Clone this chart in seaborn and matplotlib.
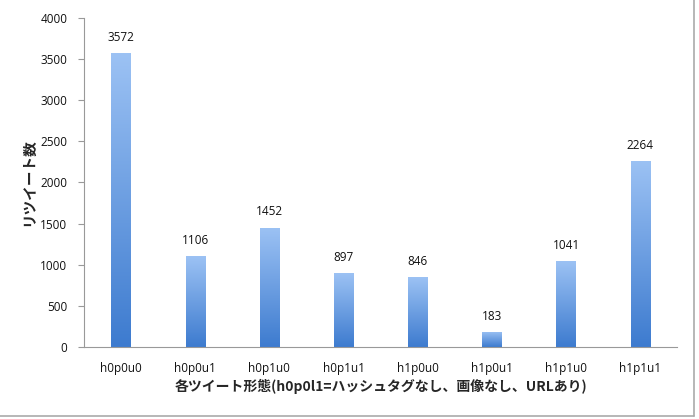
import numpy as np
import pandas as pd
import matplotlib
matplotlib.use("Agg")
import matplotlib.pyplot as plt
import seaborn as sns
from matplotlib.colors import LinearSegmentedColormap
from matplotlib.lines import Line2D

# data
categories = ["h0p0u0", "h0p0u1", "h0p1u0", "h0p1u1", "h1p0u0", "h1p0u1", "h1p1u0", "h1p1u1"]
retweets = [3572, 1106, 1452, 897, 846, 183, 1041, 2264]
y_ticks = [0, 500, 1000, 1500, 2000, 2500, 3000, 3500, 4000]

df = pd.DataFrame({"category": categories, "retweets": retweets})

sns.set_style("white")
plt.rcParams["font.family"] = ["Open Sans", "Noto Sans CJK JP", "DejaVu Sans"]
jp_font = ["Noto Sans CJK JP", "DejaVu Sans"]

fig = plt.figure(figsize=(6.99, 4.19), dpi=100)
ax = fig.add_axes([0.120, 0.172, 0.849, 0.785])

sns.barplot(data=df, x="category", y="retweets", ax=ax, width=0.26,
            color="#5b95e0", saturation=1, linewidth=0)

# vertical gradient fill per bar, light at top, darker at bottom
grad_cmap = LinearSegmentedColormap.from_list("bar_grad", ["#3d7bcf", "#9cc2f4"])
grad = np.linspace(0, 1, 256).reshape(-1, 1)
for patch in ax.patches:
    x0, y0 = patch.get_x(), patch.get_y()
    w, h = patch.get_width(), patch.get_height()
    patch.set_facecolor("none")
    im = ax.imshow(grad, cmap=grad_cmap, aspect="auto", origin="lower",
                   extent=[x0, x0 + w, y0, y0 + h], zorder=2)
    im.set_clip_path(patch)
    ax.text(x0 + w / 2, h + 110, f"{int(h)}", ha="center", va="bottom",
            fontsize=8.5, color="#111111")

ax.set_xlim(-0.5, len(categories) - 0.5)
ax.set_ylim(0, 4000)
ax.set_yticks(y_ticks)
ax.set_yticklabels([str(t) for t in y_ticks], fontsize=8.5, color="#111111")
ax.set_xticks(range(len(categories)))
ax.set_xticklabels(categories, fontsize=8.5, color="#111111")
ax.tick_params(axis="y", left=True, length=4, width=0.8, color="#999999", pad=8)
ax.tick_params(axis="x", bottom=False, pad=7)

for side in ["top", "right"]:
    ax.spines[side].set_visible(False)
for side in ["left", "bottom"]:
    ax.spines[side].set_color("#999999")
    ax.spines[side].set_linewidth(0.8)

ax.set_xlabel("各ツイート形態(h0p0l1=ハッシュタグなし、画像なし、URLあり)",
              family=jp_font, fontsize=10, fontweight="bold", labelpad=3)
ax.set_ylabel("リツイート数", family=jp_font, fontsize=10.5, fontweight="bold", labelpad=3)

# grey edge on the right and bottom of the chart area
fig.add_artist(Line2D([0, 0.993], [0.006, 0.006], transform=fig.transFigure,
                      color="#aaaaaa", linewidth=1.2))
fig.add_artist(Line2D([0.993, 0.993], [0.006, 1.0], transform=fig.transFigure,
                      color="#aaaaaa", linewidth=1.2))

fig.savefig("out.png", dpi=100)
